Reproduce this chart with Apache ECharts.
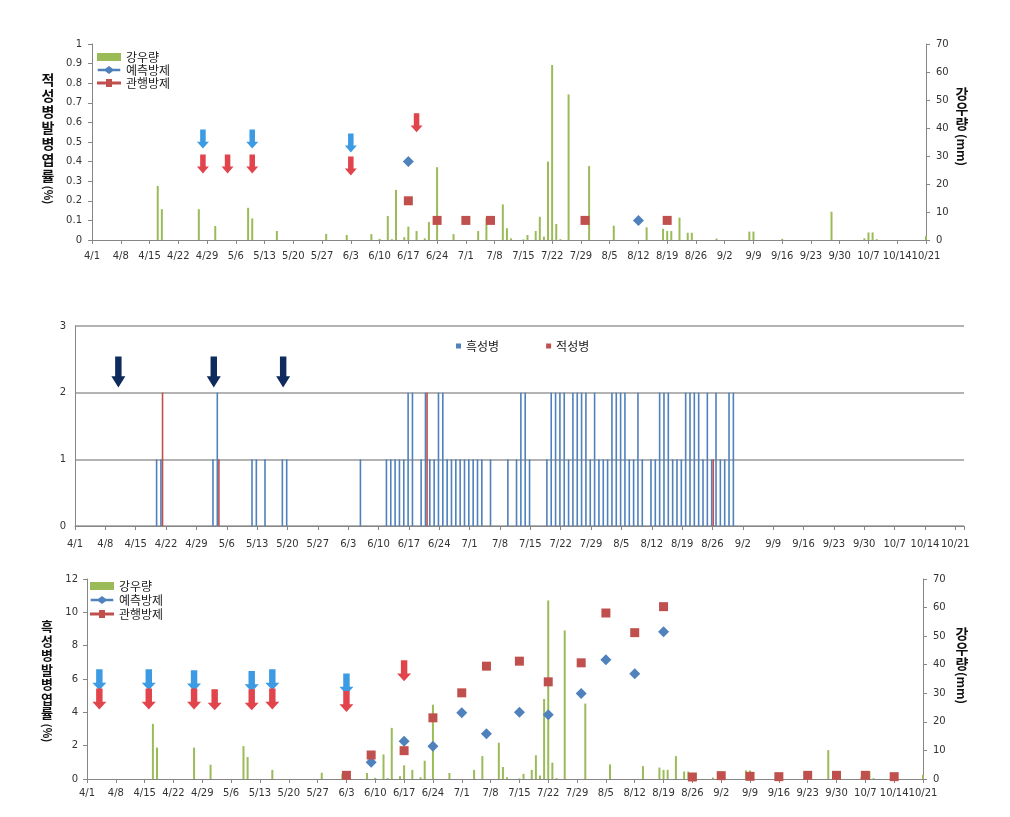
<!DOCTYPE html>
<html><head><meta charset="utf-8">
<script src="https://cdn.jsdelivr.net/npm/echarts@6/dist/echarts.min.js"></script>
<style>html,body{margin:0;padding:0;background:#fff}#c{width:1010px;height:817px}</style>
</head><body><div id="c"></div>
<script>
// ---------------- DATA ----------------
const rainDates = ['4/17','4/18','4/27','5/1','5/9','5/10','5/16','5/28','6/2','6/8','6/10','6/12','6/13','6/14','6/16','6/17','6/19','6/21','6/22','6/24','6/28','7/4','7/6','7/10','7/11','7/12','7/15','7/16','7/18','7/19','7/20','7/21','7/22','7/23','7/24','7/26','7/31','8/6','8/14','8/18','8/19','8/20','8/22','8/24','8/25','8/31','9/8','9/9','9/16','9/28','10/6','10/7','10/8','10/9','10/21'];
const rainMm = [19.3,11,11,5,11.5,7.7,3.2,2.2,1.8,2.1,0.4,8.6,0.3,17.9,1,4.8,3.2,0.6,6.4,26,2.1,3.2,8,12.7,4.2,0.6,0.2,1.8,3.2,8.3,1.2,28,62.5,5.7,0.3,52,26.4,5.1,4.5,4,3.2,3.2,8,2.6,2.6,0.5,3,3,0.4,10.1,0.6,2.7,2.7,0.3,1.5];

// top panel: 적성병 발병엽률 (%)
const topPredDates = ['6/17','8/12'];
const topPredRate = [0.4, 0.1];
const topConvDates = ['6/17','6/24','7/1','7/7','7/30','8/19'];
const topConvRate = [0.2, 0.1, 0.1, 0.1, 0.1, 0.1];
const topPredSprayDates = ['4/28','5/10','6/3'];
const topPredSprayLevel = [0.515, 0.515, 0.495];
const topConvSprayDates = ['4/28','5/4','5/10','6/3','6/19'];
const topConvSprayLevel = [0.388, 0.388, 0.388, 0.378, 0.598];

// middle panel: daily counts
const blackRotDates = ['4/20','4/21','5/3','5/4','5/12','5/13','5/15','5/19','5/20','6/6','6/12','6/13','6/14','6/15','6/16','6/17','6/18','6/20','6/21','6/22','6/23','6/24','6/25','6/26','6/27','6/28','6/29','6/30','7/1','7/2','7/3','7/4','7/6','7/10','7/12','7/13','7/14','7/15','7/19','7/20','7/21','7/22','7/23','7/24','7/25','7/26','7/27','7/28','7/29','7/30','7/31','8/1','8/2','8/3','8/4','8/5','8/6','8/7','8/8','8/9','8/10','8/12','8/13','8/14','8/15','8/16','8/17','8/18','8/19','8/20','8/21','8/22','8/23','8/24','8/25','8/26','8/27','8/28','8/29','8/30','8/31'];
const blackRotCounts = [1,1,1,2,1,1,1,1,1,1,1,1,1,1,1,2,2,1,2,1,1,2,2,1,1,1,1,1,1,1,1,1,1,1,1,2,2,1,1,2,2,2,2,1,2,2,2,2,1,2,1,1,1,2,2,2,2,1,1,2,1,1,1,2,2,2,1,1,1,2,2,2,2,1,2,1,2,1,1,2,2];
const redRotDates = ['4/21','5/4','6/21','8/26'];
const redRotCounts = [2,1,2,1];
const midSprayDates = ['4/11','5/3','5/19'];
const midSprayLevel = [2.31, 2.31, 2.31];

// bottom panel: 흑성병 발병엽률 (%)
const botPredDates = ['6/9','6/17','6/24','7/1','7/7','7/15','7/22','7/30','8/5','8/12','8/19'];
const botPredRate = [1.0,2.26,1.96,3.97,2.71,4.01,3.85,5.13,7.15,6.31,8.84];
const botConvDates = ['6/3','6/9','6/17','6/24','7/1','7/7','7/15','7/22','7/30','8/5','8/12','8/19','8/26','9/2','9/9','9/16','9/23','9/30','10/7','10/14'];
const botConvRate = [0.22,1.44,1.70,3.67,5.17,6.77,7.07,5.83,6.97,9.96,8.78,10.34,0.12,0.2,0.16,0.14,0.22,0.22,0.22,0.14];
const botPredSprayDates = ['4/4','4/16','4/27','5/11','5/16','6/3'];
const botPredSprayLevel = [5.95,5.95,5.9,5.85,5.95,5.7];
const botConvSprayDates = ['4/4','4/16','4/27','5/2','5/11','5/16','6/3','6/17'];
const botConvSprayLevel = [4.8,4.8,4.8,4.75,4.75,4.8,4.65,6.5];

// ---------------- HELPERS ----------------
const monthStart = {4:0,5:30,6:61,7:91,8:122,9:153,10:183};
function toIdx(s){const p=s.split('/').map(Number);return monthStart[p[0]]+p[1]-1;}
function toLabel(v){
  if (v % 7 !== 0) return '';
  let m = 4;
  for (const k of [4,5,6,7,8,9,10]) if (monthStart[k] <= v) m = k;
  return m + '/' + (v - monthStart[m] + 1);
}
function pairs(dates, vals){return dates.map((d,i)=>[toIdx(d), vals[i]]);}

const GREEN='#9BBB59', BLUE='#4F81BD', RED='#C0504D';
const ARROW_BLUE='#3d9be3', ARROW_RED='#e2444c', ARROW_NAVY='#0f2a5c';
const NUM='DejaVu Sans', KR='Noto Sans CJK KR';
const AX='#868686';
const arrowPath='path://M2.7,0 L7.3,0 L7.3,7 L10,7 L5,11 L0,7 L2.7,7 Z';
const diamondLine='path://M0,3 L8,3 L12,0 L16,3 L24,3 L24,5.5 L16,5.5 L12,8.5 L8,5.5 L0,5.5 Z';
const squareLine='path://M0,3 L9,3 L9,0.5 L15,0.5 L15,3 L24,3 L24,6 L15,6 L15,8.5 L9,8.5 L9,6 L0,6 Z';

function xAxisCfg(gi, max, margin){
  return {type:'value', gridIndex:gi, min:0, max:max, interval:7,
    axisLine:{show:true,onZero:false,lineStyle:{color:AX,width:1}},
    axisTick:{show:true,length:4,lineStyle:{color:AX}},
    splitLine:{show:false},
    axisLabel:{fontFamily:NUM,fontSize:10,color:'#333',margin:margin,formatter:toLabel,showMinLabel:true,showMaxLabel:true}};
}
function yAxisCfg(gi, max, interval, pos, extra){
  return Object.assign({type:'value', gridIndex:gi, min:0, max:max, interval:interval, position:pos,
    axisLine:{show:true,lineStyle:{color:AX,width:1}},
    axisTick:{show:true,length:4,lineStyle:{color:AX}},
    splitLine:{show:false},
    axisLabel:{fontFamily:NUM,fontSize:10,color:'#333',margin:10}}, extra||{});
}
function arrowSeries(name, xi, yi, dates, levels, color, size){
  return {name:name,type:'scatter',xAxisIndex:xi,yAxisIndex:yi,data:pairs(dates,levels),
    symbol:arrowPath,symbolSize:size,itemStyle:{color:color,opacity:1},silent:true,z:6,
    emphasis:{disabled:true}};
}

const chart = echarts.init(document.getElementById('c'), null, {renderer:'canvas'});
const titleStyle = (size)=>({fontFamily:KR,fontSize:size,fontWeight:'bold',fill:'#111',align:'center',verticalAlign:'top'});

chart.setOption({
  animation:false,
  backgroundColor:'#fff',
  grid:[
    {left:92, top:44, width:834, height:196},
    {left:75, top:326, width:889, height:200},
    {left:87, top:579, width:836, height:200}
  ],
  xAxis:[ xAxisCfg(0,203,11), xAxisCfg(1,205,13), xAxisCfg(2,203,9) ],
  yAxis:[
    yAxisCfg(0,1,0.1,'left'),
    yAxisCfg(0,70,10,'right'),
    yAxisCfg(1,3,1,'left',{axisTick:{show:false},splitLine:{show:true,lineStyle:{color:'#9a9a9a',width:1.5}},axisLabel:{fontFamily:NUM,fontSize:10,color:'#333',margin:9}}),
    yAxisCfg(2,12,2,'left',{axisLabel:{fontFamily:NUM,fontSize:10,color:'#333',margin:9}}),
    yAxisCfg(2,70,10,'right')
  ],
  legend:[
    {left:92,top:46,orient:'vertical',itemWidth:24,itemHeight:8,itemGap:1,
     textStyle:{fontFamily:KR,fontSize:12,color:'#222'},
     data:[{name:'강우량',icon:'rect'},{name:'예측방제',icon:diamondLine},{name:'관행방제',icon:squareLine}]},
    {left:451,top:335,itemWidth:5,itemHeight:5,itemGap:47,
     textStyle:{fontFamily:KR,fontSize:12,color:'#222'},
     data:[{name:'흑성병',icon:'rect'},{name:'적성병',icon:'rect'}]},
    {left:85,top:575,orient:'vertical',itemWidth:24,itemHeight:8,itemGap:2,
     textStyle:{fontFamily:KR,fontSize:12,color:'#222'},
     data:[{name:'강우량',icon:'rect'},{name:'예측방제',icon:diamondLine},{name:'관행방제',icon:squareLine}]}
  ],
  graphic:[
    {type:'text',x:48,y:72,style:Object.assign(titleStyle(14),{text:'적\n성\n병\n발\n병\n엽\n률',lineHeight:16})},
    {type:'text',x:48,y:195,rotation:-Math.PI/2,style:Object.assign(titleStyle(11),{text:'(%)',verticalAlign:'middle'})},
    {type:'text',x:962,y:86,style:Object.assign(titleStyle(14),{text:'강\n우\n량',lineHeight:15})},
    {type:'text',x:962,y:150,rotation:-Math.PI/2,style:Object.assign(titleStyle(12),{text:'(mm)',verticalAlign:'middle'})},
    {type:'text',x:47,y:619,style:Object.assign(titleStyle(13),{text:'흑\n성\n병\n발\n병\n엽\n률',lineHeight:14.5})},
    {type:'text',x:47,y:733,rotation:-Math.PI/2,style:Object.assign(titleStyle(11),{text:'(%)',verticalAlign:'middle'})},
    {type:'text',x:962,y:626,style:Object.assign(titleStyle(14),{text:'강\n우\n량',lineHeight:15})},
    {type:'text',x:962,y:688,rotation:-Math.PI/2,style:Object.assign(titleStyle(12),{text:'(mm)',verticalAlign:'middle'})}
  ],
  series:[
    {name:'강우량',type:'bar',xAxisIndex:0,yAxisIndex:1,data:pairs(rainDates,rainMm),barWidth:2,itemStyle:{color:GREEN},z:2},
    {name:'예측방제',type:'scatter',xAxisIndex:0,yAxisIndex:0,data:pairs(topPredDates,topPredRate),symbol:'diamond',symbolSize:11,itemStyle:{color:BLUE,opacity:1},z:4},
    {name:'관행방제',type:'scatter',xAxisIndex:0,yAxisIndex:0,data:pairs(topConvDates,topConvRate),symbol:'rect',symbolSize:9,itemStyle:{color:RED,opacity:1},z:5},
    arrowSeries('a1',0,0,topPredSprayDates,topPredSprayLevel,ARROW_BLUE,[12,19]),
    arrowSeries('a2',0,0,topConvSprayDates,topConvSprayLevel,ARROW_RED,[12,19]),

    {name:'흑성병',type:'bar',xAxisIndex:1,yAxisIndex:2,data:pairs(blackRotDates,blackRotCounts),barWidth:1.6,barGap:'0%',itemStyle:{color:BLUE},z:2},
    {name:'적성병',type:'bar',xAxisIndex:1,yAxisIndex:2,data:pairs(redRotDates,redRotCounts),barWidth:1.6,barGap:'0%',itemStyle:{color:RED},z:2},
    arrowSeries('a3',1,2,midSprayDates,midSprayLevel,ARROW_NAVY,[14,31]),

    {name:'강우량',type:'bar',xAxisIndex:2,yAxisIndex:4,data:pairs(rainDates,rainMm),barWidth:2,itemStyle:{color:GREEN},z:2},
    {name:'예측방제',type:'scatter',xAxisIndex:2,yAxisIndex:3,data:pairs(botPredDates,botPredRate),symbol:'diamond',symbolSize:11,itemStyle:{color:BLUE,opacity:1},z:4},
    {name:'관행방제',type:'scatter',xAxisIndex:2,yAxisIndex:3,data:pairs(botConvDates,botConvRate),symbol:'rect',symbolSize:9,itemStyle:{color:RED,opacity:1},z:5},
    arrowSeries('a4',2,3,botPredSprayDates,botPredSprayLevel,ARROW_BLUE,[14,21]),
    arrowSeries('a5',2,3,botConvSprayDates,botConvSprayLevel,ARROW_RED,[14,21])
  ]
});
</script>
</body></html>
